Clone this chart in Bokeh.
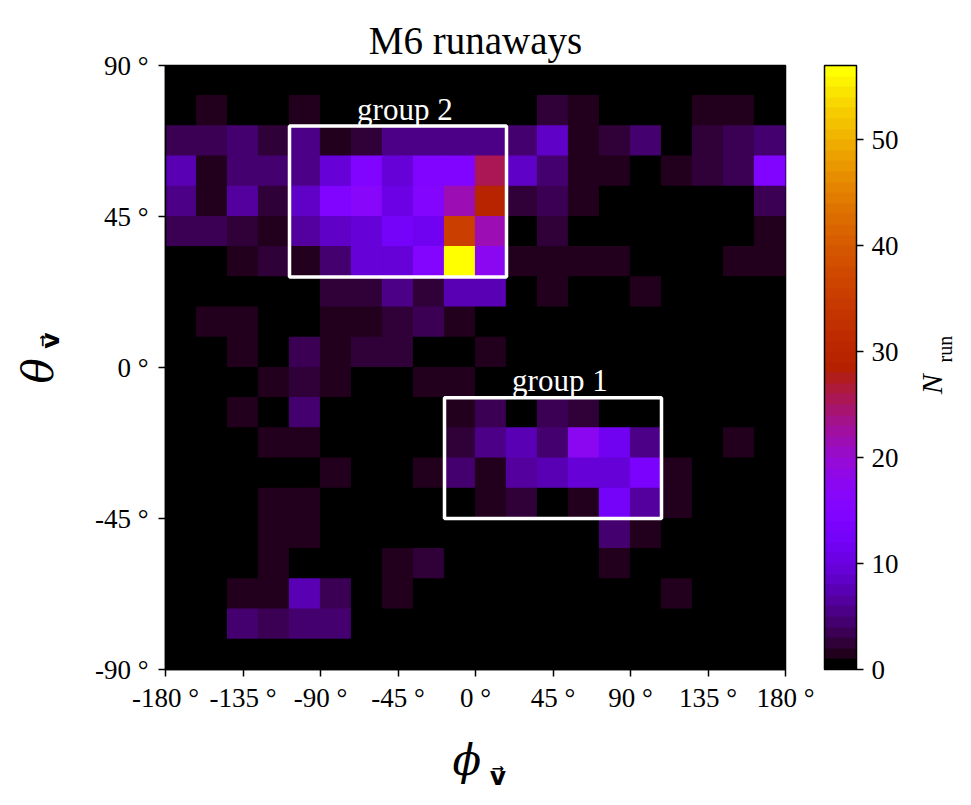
import math
from bokeh.plotting import figure
from bokeh.models import (ColumnDataSource, LinearColorMapper, ColorBar,
                          FixedTicker, LinearAxis, Range1d)
from bokeh.transform import transform
from bokeh.core.properties import value
from bokeh.embed import file_html
from bokeh.resources import INLINE

# ---------------- data ----------------
title_text = "M6 runaways"
phi_edges = [-180, -162, -144, -126, -108, -90, -72, -54, -36, -18, 0,
             18, 36, 54, 72, 90, 108, 126, 144, 162, 180]
theta_edges = [90, 81, 72, 63, 54, 45, 36, 27, 18, 9, 0,
               -9, -18, -27, -36, -45, -54, -63, -72, -81, -90]
# rows: theta bins from top (90) to bottom (-90); columns: phi bins -180 -> 180
counts = [
    [0, 0, 0, 0, 0, 0, 0, 0, 0, 0, 0, 0, 0, 0, 0, 0, 0, 0, 0, 0],
    [0, 1, 0, 0, 1, 0, 0, 0, 0, 0, 0, 0, 2, 1, 0, 0, 0, 1, 1, 0],
    [3, 3, 4, 2, 5, 1, 2, 5, 5, 5, 5, 4, 8, 1, 2, 4, 0, 2, 3, 4],
    [7, 1, 4, 4, 5, 9, 14, 9, 14, 14, 25, 8, 4, 1, 1, 0, 1, 2, 3, 14],
    [5, 1, 6, 2, 8, 14, 16, 10, 15, 21, 29, 2, 3, 1, 0, 0, 0, 0, 0, 3],
    [3, 3, 2, 1, 6, 8, 9, 12, 11, 35, 21, 0, 2, 0, 0, 0, 0, 0, 0, 1],
    [0, 0, 1, 2, 1, 4, 9, 9, 15, 57, 17, 1, 1, 1, 1, 0, 0, 0, 1, 1],
    [0, 0, 0, 0, 0, 2, 2, 5, 2, 7, 7, 0, 1, 0, 0, 1, 0, 0, 0, 0],
    [0, 1, 1, 0, 0, 1, 1, 2, 3, 1, 0, 0, 0, 0, 0, 0, 0, 0, 0, 0],
    [0, 0, 1, 0, 3, 1, 2, 2, 0, 0, 1, 0, 0, 0, 0, 0, 0, 0, 0, 0],
    [0, 0, 0, 1, 2, 1, 0, 0, 1, 1, 0, 0, 0, 0, 0, 0, 0, 0, 0, 0],
    [0, 0, 1, 0, 4, 0, 0, 0, 0, 1, 3, 0, 3, 2, 0, 0, 0, 0, 0, 0],
    [0, 0, 0, 1, 1, 0, 0, 0, 0, 2, 5, 7, 4, 17, 11, 5, 0, 0, 1, 0],
    [0, 0, 0, 0, 0, 1, 0, 0, 1, 4, 1, 6, 7, 9, 9, 13, 1, 0, 0, 0],
    [0, 0, 0, 1, 1, 0, 0, 0, 0, 0, 1, 2, 0, 1, 12, 6, 1, 0, 0, 0],
    [0, 0, 0, 1, 1, 0, 0, 0, 0, 0, 0, 0, 0, 0, 4, 1, 0, 0, 0, 0],
    [0, 0, 0, 1, 0, 0, 0, 1, 2, 0, 0, 0, 0, 0, 1, 0, 0, 0, 0, 0],
    [0, 0, 1, 1, 7, 3, 0, 1, 0, 0, 0, 0, 0, 0, 0, 0, 1, 0, 0, 0],
    [0, 0, 4, 3, 4, 4, 0, 0, 0, 0, 0, 0, 0, 0, 0, 0, 0, 0, 0, 0],
    [0, 0, 0, 0, 0, 0, 0, 0, 0, 0, 0, 0, 0, 0, 0, 0, 0, 0, 0, 0],
]
count_max = 57
phi_ticks = [-180, -135, -90, -45, 0, 45, 90, 135, 180]
phi_tick_labels = ["-180 °", "-135 °", "-90 °", "-45 °", "0 °", "45 °", "90 °", "135 °", "180 °"]
theta_ticks = [-90, -45, 0, 45, 90]
theta_tick_labels = ["-90 °", "-45 °", "0 °", "45 °", "90 °"]
cbar_ticks = [0, 10, 20, 30, 40, 50]
group_names = ["group 1", "group 2"]
group_phi_min = [-18, -108]
group_phi_max = [108, 18]
group_theta_min = [-45, 27]
group_theta_max = [-9, 72]
x_label_main, x_label_sub = "ϕ", "v\u20d7"
y_label_main, y_label_sub = "θ", "v\u20d7"
cbar_label_main, cbar_label_sub = "N", "run"

# ---------------- colour map (gnuplot) ----------------
def gnuplot(t):
    r = math.sqrt(t)
    g = t ** 3
    b = max(0.0, min(1.0, math.sin(2 * math.pi * t)))
    return "#%02x%02x%02x" % (round(r * 255), round(g * 255), round(b * 255))

palette = [gnuplot(i / (count_max - 1)) for i in range(count_max)]
mapper = LinearColorMapper(palette=palette, low=0, high=count_max)

# ---------------- cells ----------------
left, right, top, bottom, cnt = [], [], [], [], []
for i, row in enumerate(counts):
    for j, c in enumerate(row):
        left.append(phi_edges[j])
        right.append(phi_edges[j + 1])
        top.append(theta_edges[i])
        bottom.append(theta_edges[i + 1])
        cnt.append(c)
src = ColumnDataSource(dict(left=left, right=right, top=top, bottom=bottom, count=cnt))

SERIF = "Liberation Serif"
GREEK = "DejaVu Serif"
VEC = "DejaVu Sans"
FL, FT, FW, FH = 165, 65, 620, 604   # frame placement in pixels
W, H = 970, 797

p = figure(width=W, height=H,
           x_range=Range1d(-180, 180), y_range=Range1d(-90, 90),
           output_backend="svg", toolbar_location=None,
           min_border_left=FL, min_border_right=W - FL - FW,
           min_border_top=FT, min_border_bottom=H - FT - FH,
           title=title_text)
p.background_fill_color = "black"
p.border_fill_color = "white"
p.grid.visible = False
p.outline_line_color = "black"
p.outline_line_width = 1.5

p.quad(left="left", right="right", top="top", bottom="bottom", source=src,
       fill_color=transform("count", mapper),
       line_color=transform("count", mapper), line_width=1.2)

# group boxes
gsrc = ColumnDataSource(dict(l=group_phi_min, r=group_phi_max,
                             b=group_theta_min, t=group_theta_max,
                             name=group_names,
                             tx=[(a + b) / 2 + 4 for a, b in zip(group_phi_min, group_phi_max)],
                             ty=[t + 5 for t in group_theta_max]))
p.quad(left="l", right="r", bottom="b", top="t", source=gsrc,
       fill_alpha=0, line_color="white", line_width=3.5)
p.text(x="tx", y="ty", text="name", source=gsrc, text_color="white",
       text_font=value(SERIF), text_font_size="31px",
       text_align="center", text_baseline="alphabetic")

# title
p.title.text_font = SERIF
p.title.text_font_size = "39px"
p.title.text_font_style = "normal"
p.title.align = "center"
p.title.text_color = "black"
p.title.standoff = 8

# axes
for ax in (p.xaxis[0], p.yaxis[0]):
    ax.major_label_text_font = SERIF
    ax.major_label_text_font_size = "27px"
    ax.major_label_text_color = "black"
    ax.major_tick_out = 7
    ax.major_tick_in = 0
    ax.minor_tick_out = 0
    ax.minor_tick_in = 0
    ax.major_tick_line_color = "black"
    ax.major_tick_line_width = 1.5
    ax.axis_line_color = "black"
    ax.axis_line_width = 1.5
p.xaxis[0].major_label_standoff = 6
p.yaxis[0].major_label_standoff = 10
p.xaxis[0].ticker = FixedTicker(ticks=phi_ticks)
p.xaxis[0].major_label_overrides = {t: s for t, s in zip(phi_ticks, phi_tick_labels)}
p.yaxis[0].ticker = FixedTicker(ticks=theta_ticks)
p.yaxis[0].major_label_overrides = {t: s for t, s in zip(theta_ticks, theta_tick_labels)}

# colour bar
cb = ColorBar(color_mapper=mapper, ticker=FixedTicker(ticks=cbar_ticks),
              width=32, height=FH, padding=0, margin=0, location=(39, 0),
              major_label_text_font=SERIF, major_label_text_font_size="27px",
              major_label_text_color="black",
              major_tick_out=7, major_tick_in=0, major_tick_line_color="black",
              major_tick_line_width=1.5, minor_tick_out=0, minor_tick_in=0,
              bar_line_color="black", bar_line_width=1.5,
              background_fill_alpha=0, label_standoff=8)
p.add_layout(cb, "right")


# axis titles built from label-only axes (side panels are not clipped)
def label_axis(side, at, text, font, size, style, standoff, orient):
    ax = LinearAxis(ticker=FixedTicker(ticks=[at]), major_label_overrides={at: text},
                    axis_line_color=None, major_tick_line_color=None,
                    minor_tick_line_color=None, major_tick_out=0, major_tick_in=0,
                    minor_tick_out=0, minor_tick_in=0,
                    major_label_text_font=font, major_label_text_font_size=size,
                    major_label_text_font_style=style, major_label_text_color="black",
                    major_label_standoff=standoff, major_label_orientation=orient)
    p.add_layout(ax, side)


label_axis("below", -5, x_label_main, GREEK, "42px", "italic", 20, "horizontal")
label_axis("below", 13, x_label_sub, VEC, "25px", "bold", -26, "horizontal")
label_axis("left", 8, y_label_sub, VEC, "25px", "bold", 26, "vertical")
label_axis("left", -1, y_label_main, GREEK, "42px", "italic", -30, "vertical")
label_axis("right", -8, cbar_label_main, SERIF, "30px", "italic", 30, math.pi / 2)
label_axis("right", 1.5, cbar_label_sub, SERIF, "20px", "normal", -22, math.pi / 2)

open("out.html", "w").write(file_html(p, INLINE))
